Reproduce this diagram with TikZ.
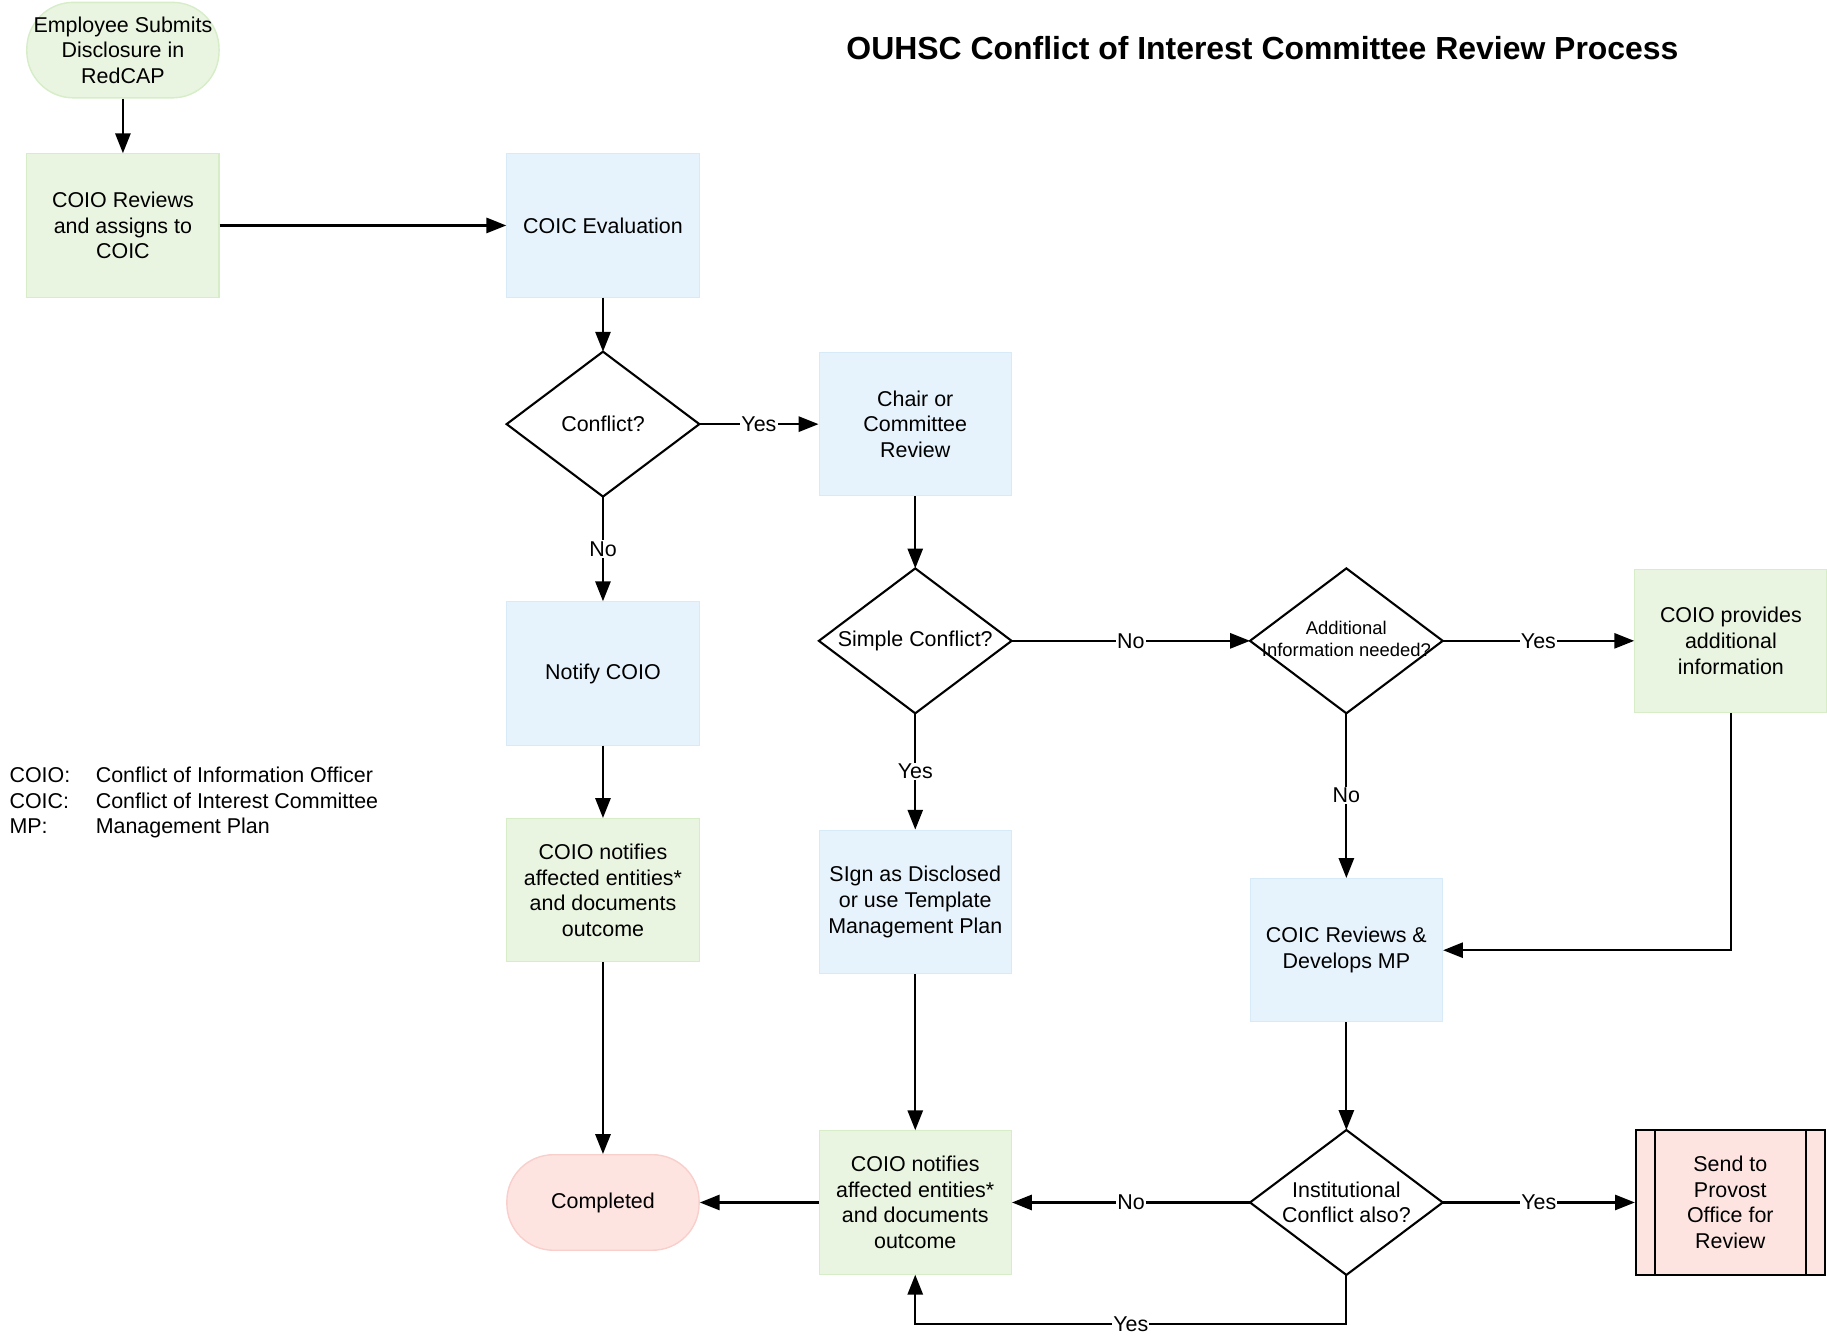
\documentclass[tikz,border=0pt]{standalone}
\usepackage{fontspec}
\setmainfont{Liberation Sans}
\usetikzlibrary{arrows.meta}
\definecolor{gfill}{HTML}{E9F5E0}
\definecolor{gline}{HTML}{D6EDC8}
\definecolor{bfill}{HTML}{E6F3FC}
\definecolor{bline}{HTML}{D6EAF8}
\definecolor{pfill}{HTML}{FDE4E1}
\definecolor{pline}{HTML}{F9CFCB}
\begin{document}
\begin{tikzpicture}[x=1pt,y=-1pt,
  txt/.style={font=\fontsize{18.4}{22}\selectfont, align=center, text=black},
  boxbase/.style={txt, rectangle, minimum width=165pt, minimum height=123pt, inner sep=0pt},
  boxg/.style={boxbase, fill=gfill, draw=gline, line width=1pt},
  boxb/.style={boxbase, fill=bfill, draw=bline, line width=1pt},
  termg/.style={boxbase, minimum height=82pt, rounded corners=40pt, fill=gfill, draw=gline, line width=1.2pt},
  termp/.style={boxbase, minimum height=82pt, rounded corners=40pt, fill=pfill, draw=pline, line width=1.2pt},
  decision/.style={txt, rectangle, minimum width=165pt, minimum height=124pt, inner sep=0pt},
  dline/.style={draw=black, line width=1.8pt, line join=miter},
  provbox/.style={boxbase, minimum width=162pt, minimum height=124pt, fill=pfill, draw=black, line width=1.8pt},
  arr/.style={line width=1.9pt, -{Triangle[length=17pt,width=13pt]}},
  lab/.style={txt, fill=white, inner sep=1pt},
  legtxt/.style={txt, anchor=base west, inner sep=0pt}
]
\useasboundingbox (0,0) rectangle (1568,1146);

% title
\node[font=\fontsize{27.4}{32}\selectfont\bfseries] (title) at (1083.5,41) {OUHSC Conflict of Interest Committee Review Process};

% nodes
\node[termg] (start) at (105.5,43) {Employee Submits\\Disclosure in\\RedCAP};
\node[boxg] (coioRev) at (105.5,193.5) {COIO Reviews\\and assigns to\\COIC};
\node[boxb] (coicEval) at (517.5,193.5) {COIC Evaluation};
\node[decision] (conflict) at (517.5,364) {Conflict?};
\node[boxb] (chair) at (785.5,364) {Chair or\\Committee\\Review};
\node[boxb] (notify) at (517.5,578) {Notify COIO};
\node[boxg] (coioNot1) at (517.5,764) {COIO notifies\\affected entities*\\and documents\\outcome};
\node[termp] (completed) at (517.5,1032) {Completed};
\node[decision] (simple) at (785.5,550) {Simple Conflict?};
\node[boxb] (sign) at (785.5,774) {SIgn as Disclosed\\or use Template\\Management Plan};
\node[boxg] (coioNot2) at (785.5,1032) {COIO notifies\\affected entities*\\and documents\\outcome};
\node[decision] (addl) at (1155.5,550) {};
\node[boxg] (coioProv) at (1485.5,550) {COIO provides\\additional\\information};
\node[boxb] (coicRev) at (1155.5,815.5) {COIC Reviews \&\\Develops MP};
\node[decision] (inst) at (1155.5,1032) {Institutional\\Conflict also?};
\node[provbox] (provost) at (1485,1032) {Send to\\Provost\\Office for\\Review};

% diamonds
\foreach \d in {conflict,simple,addl,inst}{
  \draw[dline] (\d.north) -- (\d.east) -- (\d.south) -- (\d.west) -- cycle;
}
\node[txt, font=\fontsize{15.8}{19}\selectfont] (addltext) at (1155.5,548) {Additional\\Information needed?};

% predefined process inner lines
\draw[line width=1.8pt] ([xshift=17pt]provost.north west) -- ([xshift=17pt]provost.south west);
\draw[line width=1.8pt] ([xshift=-17pt]provost.north east) -- ([xshift=-17pt]provost.south east);

% legend
\node[legtxt] (lk1) at (8,671.5) {COIO:};
\node[legtxt] (lv1) at (82,671.5) {Conflict of Information Officer};
\node[legtxt] (lk2) at (8,693.5) {COIC:};
\node[legtxt] (lv2) at (82,693.5) {Conflict of Interest Committee};
\node[legtxt] (lk3) at (8,715.5) {MP:};
\node[legtxt] (lv3) at (82,715.5) {Management Plan};

% connectors
\draw[arr] (start.south) -- (coioRev.north);
\draw[arr] (coioRev.east) -- (coicEval.west);
\draw[arr] (coicEval.south) -- (conflict.north);
\draw[arr] (conflict.east) -- node[lab]{Yes} (chair.west);
\draw[arr] (conflict.south) -- node[lab]{No} (notify.north);
\draw[arr] (notify.south) -- (coioNot1.north);
\draw[arr] (coioNot1.south) -- (completed.north);
\draw[arr] (chair.south) -- (simple.north);
\draw[arr] (simple.east) -- node[lab]{No} (addl.west);
\draw[arr] (simple.south) -- node[lab]{Yes} (sign.north);
\draw[arr] (addl.east) -- node[lab]{Yes} (coioProv.west);
\draw[arr] (addl.south) -- node[lab]{No} (coicRev.north);
\draw[arr] (coioProv.south) |- (coicRev.east);
\draw[arr] (sign.south) -- (coioNot2.north);
\draw[arr] (coicRev.south) -- (inst.north);
\draw[arr] (inst.west) -- node[lab]{No} (coioNot2.east);
\draw[arr] (inst.east) -- node[lab]{Yes} (provost.west);
\draw[arr] (inst.south) -- ++(0,42) -| node[lab,pos=0.25]{Yes} (coioNot2.south);
\draw[arr] (coioNot2.west) -- (completed.east);
\end{tikzpicture}
\end{document}
